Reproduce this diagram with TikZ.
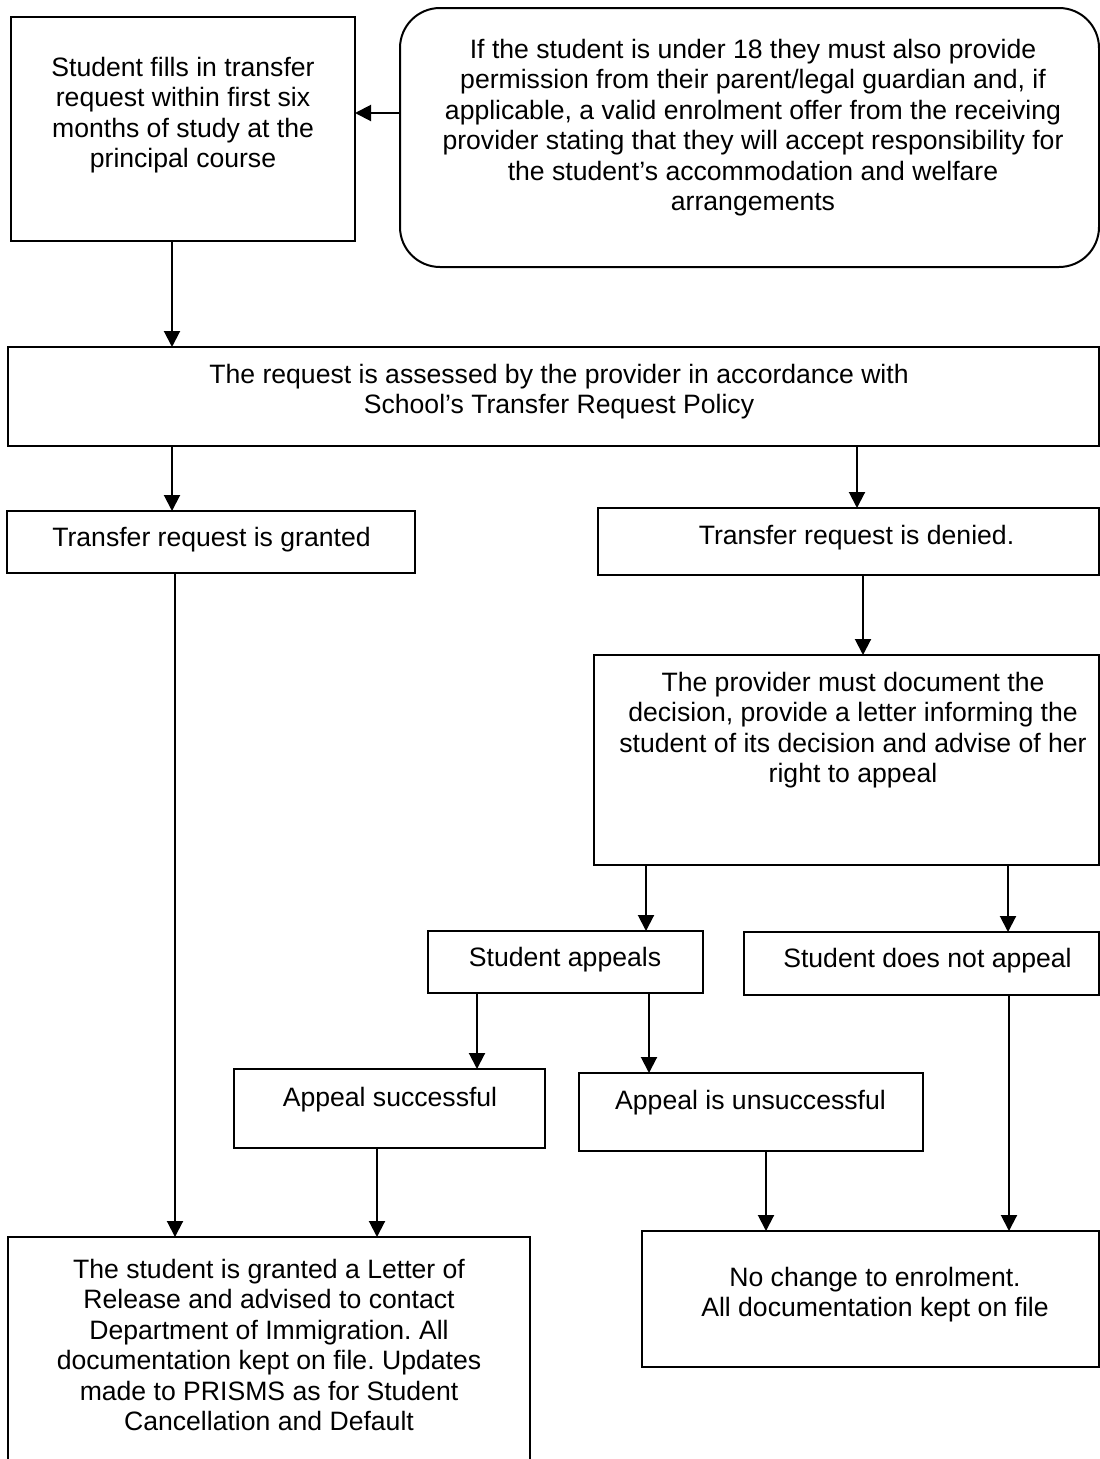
\documentclass[tikz,border=0pt]{standalone}
\usepackage{fontspec}
\setmainfont{Liberation Sans}
\usetikzlibrary{arrows.meta}
\frenchspacing
\begin{document}
\begin{tikzpicture}[x=1pt,y=-1pt,
  box/.style={draw=black, line width=2pt, inner sep=0pt, outer sep=0pt},
  txt/.style={anchor=north, align=center, inner sep=0pt, font=\fontsize{26.6}{30.4}\selectfont},
  arr/.style={line width=2pt, -{Triangle[width=16pt,length=16pt]}}]
\useasboundingbox (0,0) rectangle (1100,1459);
\fill[white] (0,0) rectangle (1100,1459);
% boxes
\node[box, minimum width=344pt, minimum height=224pt] (b1) at (183,129) {};
\node[box, rounded corners=40pt, minimum width=699pt, minimum height=259pt] (b2) at (749.5,137.5) {};
\node[box, minimum width=1091pt, minimum height=99pt] (b3) at (553.5,396.5) {};
\node[box, minimum width=408pt, minimum height=62pt] (b4) at (211,542) {};
\node[box, minimum width=501pt, minimum height=67pt] (b5) at (848.5,541.5) {};
\node[box, minimum width=505pt, minimum height=210pt] (b6) at (846.5,760) {};
\node[box, minimum width=275pt, minimum height=62pt] (b7) at (565.5,962) {};
\node[box, minimum width=355pt, minimum height=63pt] (b8) at (921.5,963.5) {};
\node[box, minimum width=311pt, minimum height=79pt] (b9) at (389.5,1108.5) {};
\node[box, minimum width=344pt, minimum height=78pt] (b10) at (751,1112) {};
\node[box, minimum width=522pt, minimum height=243pt] (b11) at (269,1358.5) {};
\node[box, minimum width=457pt, minimum height=136pt] (b12) at (870.5,1299) {};
% texts
\node[txt] (t1) at (183,57) {Student fills in transfer\\request within first six\\months of study at the\\principal course};
\node[txt] (t2) at (753,39) {If the student is under 18 they must also provide\\permission from their parent/legal guardian and, if\\applicable, a valid enrolment offer from the receiving\\provider stating that they will accept responsibility for\\the student’s accommodation and welfare\\arrangements};
\node[txt] (t3) at (559,364) {The request is assessed by the provider in accordance with\\School’s Transfer Request Policy};
\node[txt] (t4) at (211.5,527) {Transfer request is granted};
\node[txt] (t5) at (856.5,525) {Transfer request is denied.};
\node[txt] (t6) at (853,672) {The provider must document the\\decision, provide a letter informing the\\student of its decision and advise of her\\right to appeal};
\node[txt] (t7) at (565,947) {Student appeals};
\node[txt] (t8) at (927.5,948) {Student does not appeal};
\node[txt] (t9) at (390,1087) {Appeal successful};
\node[txt] (t10) at (750.5,1090) {Appeal is unsuccessful};
\node[txt] (t11) at (269,1259) {The student is granted a Letter of\\Release and advised to contact\\Department of Immigration. All\\documentation kept on file. Updates\\made to PRISMS as for Student\\Cancellation and Default};
\node[txt] (t12) at (875,1267) {No change to enrolment.\\All documentation kept on file};
% connector guide coordinates
\coordinate (ya) at (0,113);
\coordinate (xb) at (172,0);
\coordinate (xd) at (857,0);
\coordinate (xe) at (863,0);
\coordinate (xf) at (646,0);
\coordinate (xg) at (1008,0);
\coordinate (xh) at (477,0);
\coordinate (xi) at (649,0);
\coordinate (xj) at (175,0);
\coordinate (xk) at (377,0);
\coordinate (xl) at (766,0);
\coordinate (xm) at (1009,0);
% connectors
\draw[arr] (b2.west |- ya) -- (b1.east |- ya);
\draw[arr] (b1.south -| xb) -- (b3.north -| xb);
\draw[arr] (b3.south -| xb) -- (b4.north -| xb);
\draw[arr] (b3.south -| xd) -- (b5.north -| xd);
\draw[arr] (b5.south -| xe) -- (b6.north -| xe);
\draw[arr] (b6.south -| xf) -- (b7.north -| xf);
\draw[arr] (b6.south -| xg) -- (b8.north -| xg);
\draw[arr] (b7.south -| xh) -- (b9.north -| xh);
\draw[arr] (b7.south -| xi) -- (b10.north -| xi);
\draw[arr] (b4.south -| xj) -- (b11.north -| xj);
\draw[arr] (b9.south -| xk) -- (b11.north -| xk);
\draw[arr] (b10.south -| xl) -- (b12.north -| xl);
\draw[arr] (b8.south -| xm) -- (b12.north -| xm);
\end{tikzpicture}
\end{document}
